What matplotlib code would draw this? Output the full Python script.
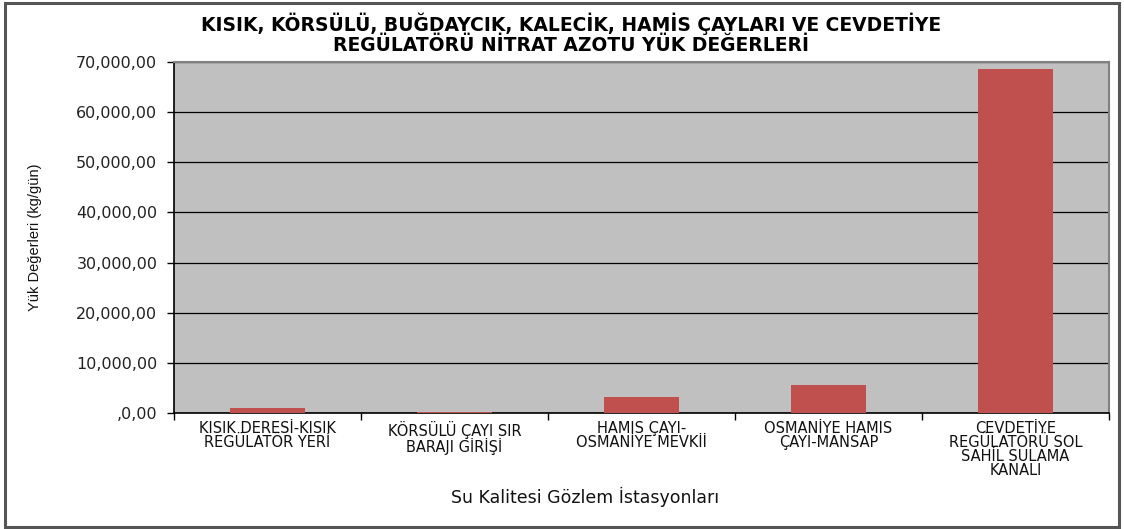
import matplotlib
matplotlib.use("Agg")
import matplotlib.pyplot as plt
from matplotlib.patches import Rectangle
from matplotlib.ticker import FuncFormatter

plt.rcParams['font.family'] = ['DejaVu Sans']

categories = [
    "KISIK DERESİ-KISIK\nREGÜLATÖR YERİ",
    "KÖRSÜLÜ ÇAYI SIR\nBARAJI GİRİŞİ",
    "HAMIS ÇAYI-\nOSMANİYE MEVKİİ",
    "OSMANİYE HAMIS\nÇAYI-MANSAP",
    "CEVDETİYE\nREGÜLATÖRÜ SOL\nSAHİL SULAMA\nKANALI",
]
values = [1000, 120, 3130, 5530, 68650]
y_ticks = [0, 10000, 20000, 30000, 40000, 50000, 60000, 70000]

title = "KISIK, KÖRSÜLÜ, BUĞDAYCIK, KALECİK, HAMİS ÇAYLARI VE CEVDETİYE\nREGÜLATÖRÜ NİTRAT AZOTU YÜK DEĞERLERİ"
ylabel = "Yük Değerleri (kg/gün)"
xlabel = "Su Kalitesi Gözlem İstasyonları"

W, H = 1124, 529
fig = plt.figure(figsize=(W / 100, H / 100), dpi=100)
left, right, top, bottom = 174, 1109, 62, 413
ax = fig.add_axes([left / W, 1 - bottom / H, (right - left) / W, (bottom - top) / H])

ax.set_facecolor("#C0C0C0")
x = list(range(len(categories)))
ax.bar(x, values, width=0.40, color="#C0504D", zorder=3)

ax.set_xlim(-0.5, len(categories) - 0.5)
ax.set_ylim(0, 70000)
ax.set_yticks(y_ticks)


def fmt(v, pos):
    if v == 0:
        return ",0,00"
    return f"{int(v):,}" + ",00"


ax.yaxis.set_major_formatter(FuncFormatter(fmt))
ax.grid(axis="y", color="#000000", linewidth=0.9, zorder=1)
ax.set_axisbelow(True)

ax.set_xticks([i - 0.5 for i in range(len(categories) + 1)])
ax.set_xticklabels([])
ax.set_xticks(x, minor=True)
ax.set_xticklabels(categories, minor=True, fontsize=10.5, linespacing=0.9, color="#111111")
ax.tick_params(axis="x", which="minor", length=0, pad=6)
ax.tick_params(axis="x", which="major", length=5, width=1, color="#000000", direction="out")
ax.tick_params(axis="y", length=5, width=1, direction="out", labelsize=11.5, pad=7, colors="#000000")
for lbl in ax.get_yticklabels():
    lbl.set_color("#222222")

for side in ["top", "right"]:
    ax.spines[side].set_color("#808080")
    ax.spines[side].set_linewidth(1.5)
for side in ["left", "bottom"]:
    ax.spines[side].set_color("#000000")
    ax.spines[side].set_linewidth(1.2)

fig.text(35 / W, 1 - 237 / H, ylabel, rotation=90, ha="center", va="center",
         fontsize=10.5, color="#111111", family=["Liberation Sans Narrow", "Liberation Sans"])
fig.text(585 / W, 1 - 497 / H, xlabel, ha="center", va="center",
         fontsize=12.5, color="#111111")
fig.text(571 / W, 1 - 34 / H, title, ha="center", va="center",
         fontsize=13.5, fontweight="bold", linespacing=1.05, color="#000000")

fig.patches.append(Rectangle((5 / W, 2 / H), 1114 / W, 524 / H, transform=fig.transFigure,
                             fill=False, edgecolor="#555555", linewidth=2.2))

fig.savefig("out.png", dpi=100, facecolor="white")
